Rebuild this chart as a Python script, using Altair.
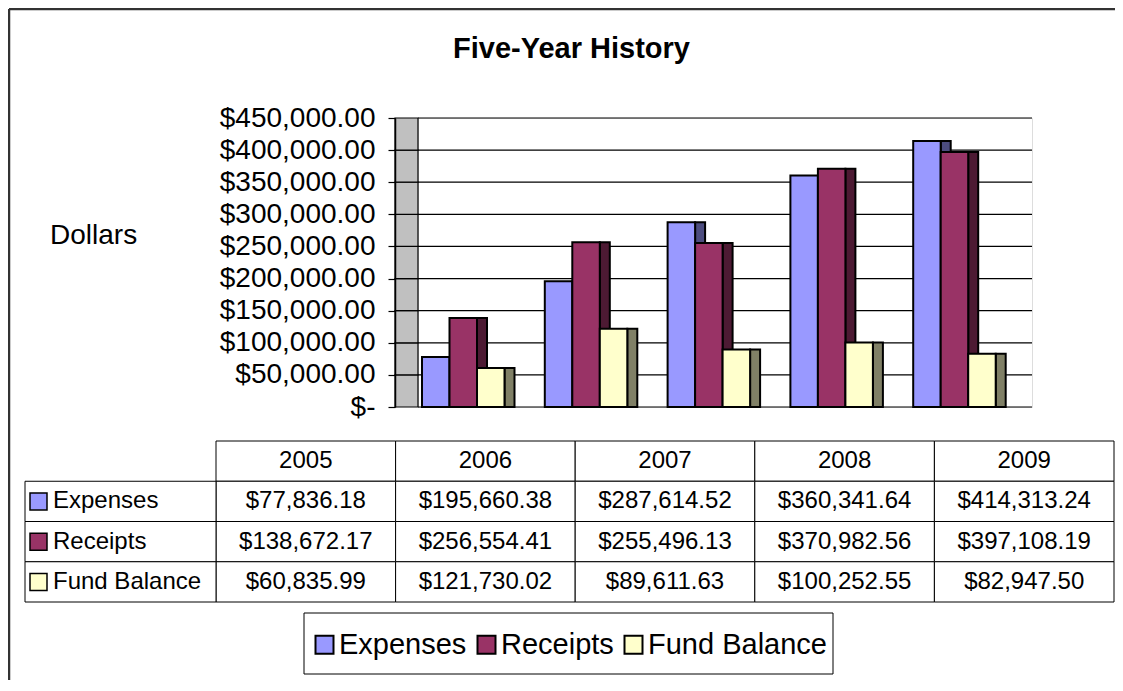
import altair as alt
import pandas as pd

# ---------------- data ----------------
years = ["2005", "2006", "2007", "2008", "2009"]
series = ["Expenses", "Receipts", "Fund Balance"]
expenses = [77836.18, 195660.38, 287614.52, 360341.64, 414313.24]
receipts = [138672.17, 256554.41, 255496.13, 370982.56, 397108.19]
fund_balance = [60835.99, 121730.02, 89611.63, 100252.55, 82947.50]
y_ticks = [0, 50000, 100000, 150000, 200000, 250000, 300000, 350000, 400000, 450000]
title_text = "Five-Year History"
y_title = "Dollars"

front_colors = ["#9999FF", "#993366", "#FFFFCC"]
side_colors = ["#4D4D80", "#4D1A33", "#808066"]

rows = []
for s, vals in zip(series, [expenses, receipts, fund_balance]):
    for yr, v in zip(years, vals):
        rows.append({"year": yr, "series": s, "value": v})
df = pd.DataFrame(rows)
grid_df = pd.DataFrame({"v": y_ticks})
band_df = pd.DataFrame({"lo": y_ticks[:-1], "hi": y_ticks[1:]})
hdr_df = pd.DataFrame({"year": years, "row": ["hdr"] * len(years)})
cells_df = pd.concat([hdr_df, df.rename(columns={"series": "row"})[["year", "row"]]], ignore_index=True)
label_df = pd.DataFrame({"series": series})
one = pd.DataFrame({"t": [title_text], "d": [y_title]})

# ---------------- layout (plot-area pixels) ----------------
W, H = 614, 289
DEPTH = 23
FONT = "Liberation Sans"

y_scale = alt.Scale(domain=[0, 450000], nice=False, zero=True)
x_front = alt.Scale(domain=years, range=[0, W], paddingInner=0, paddingOuter=0)
x_side = alt.Scale(domain=years, range=[18.75, W + 18.75], paddingInner=0, paddingOuter=0)
off_scale = alt.Scale(domain=series, range=[4, 86.5], paddingInner=0, paddingOuter=0)
tbl_x = alt.Scale(domain=years, range=[-202, 696], paddingInner=0, paddingOuter=0)
tbl_y = alt.Scale(domain=["hdr"] + series, range=[323, 484], paddingInner=0, paddingOuter=0)

label_expr = ("datum.value == 0 ? '$-\u00a0\u00a0\u00a0' : format(datum.value, '$,.2f')")

# frame of the whole chart object
frame_top = alt.Chart(one).mark_rule(color="#333333", strokeWidth=2.5).encode(
    x=alt.value(-409), x2=alt.value(697), y=alt.value(-109))
frame_left = alt.Chart(one).mark_rule(color="#333333", strokeWidth=2.5).encode(
    x=alt.value(-409), y=alt.value(-109), y2=alt.value(562))

# 3D side wall, one panel per gridline interval so each outline draws a gridline
side_wall = alt.Chart(band_df).mark_rect(fill="#C0C0C0", stroke="black", strokeWidth=1.2).encode(
    x=alt.value(-DEPTH), x2=alt.value(0),
    y=alt.Y("hi:Q", scale=y_scale, axis=None), y2="lo:Q")
grid = alt.Chart(grid_df).mark_rule(color="black", strokeWidth=1.2).encode(
    x=alt.value(0), x2=alt.value(W),
    y=alt.Y("v:Q", scale=y_scale, axis=alt.Axis(
        values=y_ticks, offset=DEPTH, tickSize=7, tickColor="black", tickWidth=1.2,
        domainColor="black", domainWidth=1.5, labelFontSize=28, labelFont=FONT,
        labelColor="black", labelPadding=13, labelExpr=label_expr, grid=False,
        title=None, zindex=1)))

side_bars = alt.Chart(df).mark_bar(width=10, stroke="black", strokeWidth=2).encode(
    x=alt.X("year:N", scale=x_side, axis=None),
    xOffset=alt.XOffset("series:N", scale=off_scale),
    y=alt.Y("value:Q", scale=y_scale, axis=None),
    color=alt.Color("series:N", scale=alt.Scale(domain=series, range=side_colors), legend=None))

front_bars = alt.Chart(df).mark_bar(stroke="black", strokeWidth=2).encode(
    x=alt.X("year:N", scale=x_front, axis=None),
    xOffset=alt.XOffset("series:N", scale=off_scale),
    y=alt.Y("value:Q", scale=y_scale, axis=None),
    color=alt.Color("series:N", scale=alt.Scale(domain=series, range=front_colors),
                    legend=alt.Legend(
                        orient="none", legendX=-114, legendY=506, direction="horizontal",
                        title=None, symbolType="square", symbolSize=324,
                        symbolStrokeColor="black", symbolStrokeWidth=2, symbolOpacity=1,
                        labelFontSize=29, labelFont=FONT, labelColor="black",
                        labelOffset=0, columnPadding=5, padding=6, labelLimit=0)))

legend_box = alt.Chart(one).mark_rect(fill="white", stroke="black", strokeWidth=1).encode(
    x=alt.value(-114), x2=alt.value(415), y=alt.value(495), y2=alt.value(556))

# data table
cells = alt.Chart(cells_df).mark_rect(fill="white", stroke="black", strokeWidth=1).encode(
    x=alt.X("year:N", scale=tbl_x, axis=None),
    y=alt.Y("row:N", scale=tbl_y, axis=None))
label_cells = alt.Chart(label_df).mark_rect(fill="white", stroke="black", strokeWidth=1).encode(
    x=alt.value(-393), x2=alt.value(-202),
    y=alt.Y("series:N", scale=tbl_y, axis=None))
hdr_text = alt.Chart(hdr_df).mark_text(fontSize=24, font=FONT, color="black", baseline="middle").encode(
    x=alt.X("year:N", scale=tbl_x, axis=None),
    y=alt.Y("row:N", scale=tbl_y, axis=None),
    text="year:N")
val_text = alt.Chart(df).mark_text(fontSize=24, font=FONT, color="black", baseline="middle").encode(
    x=alt.X("year:N", scale=tbl_x, axis=None),
    y=alt.Y("series:N", scale=tbl_y, axis=None),
    text=alt.Text("value:Q", format="$,.2f"))
swatches = alt.Chart(label_df).mark_square(size=289, stroke="black", strokeWidth=1.5, opacity=1).encode(
    x=alt.value(-379.5),
    y=alt.Y("series:N", scale=tbl_y, axis=None),
    color=alt.Color("series:N", scale=alt.Scale(domain=series, range=front_colors), legend=None))
row_labels = alt.Chart(label_df).mark_text(fontSize=24, font=FONT, color="black", align="left",
                                           baseline="middle").encode(
    x=alt.value(-365),
    y=alt.Y("series:N", scale=tbl_y, axis=None),
    text="series:N")

title = alt.Chart(one).mark_text(fontSize=29, fontWeight="bold", font=FONT, color="black",
                                 align="center", baseline="alphabetic").encode(
    x=alt.value(153.5), y=alt.value(-60), text="t:N")
dollars = alt.Chart(one).mark_text(fontSize=28, font=FONT, color="black", align="left",
                                   baseline="middle").encode(
    x=alt.value(-368), y=alt.value(118), text="d:N")

chart = alt.layer(
    frame_top, frame_left, grid, side_bars, front_bars, legend_box,
    cells, label_cells, hdr_text, val_text, swatches, row_labels, title, dollars, side_wall
).resolve_scale(
    x="independent", y="independent", color="independent"
).properties(
    width=W, height=H,
    autosize=alt.AutoSizeParams(type="none"),
    padding={"left": 410, "top": 110, "right": 83, "bottom": 273},
).configure_view(
    fill="#C0C0C0", stroke="black", strokeWidth=1.5
).configure(
    background="white", font=FONT
)

chart.save("out.html", embed_options={"renderer": "svg", "actions": False})
